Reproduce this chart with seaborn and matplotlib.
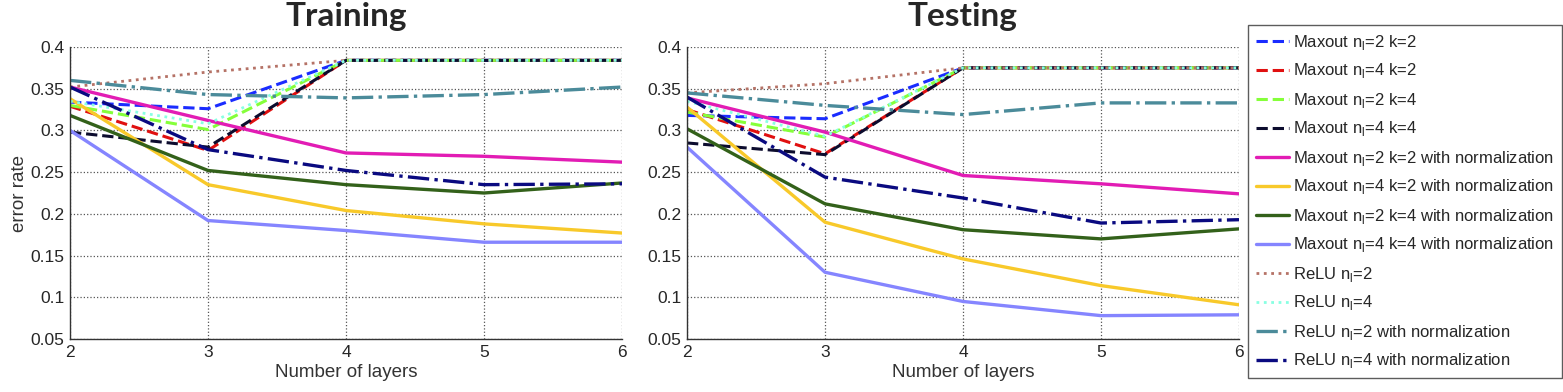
import seaborn as sns
import matplotlib.pyplot as plt

# Number of layers
layers = [2, 3, 4, 5, 6]

# Training error rate
train_mx_n2_k2 = [0.334, 0.326, 0.384, 0.384, 0.384]
train_mx_n4_k2 = [0.329, 0.276, 0.384, 0.384, 0.384]
train_mx_n2_k4 = [0.330, 0.301, 0.384, 0.384, 0.384]
train_mx_n4_k4 = [0.298, 0.280, 0.384, 0.384, 0.384]
train_mx_n2_k2_norm = [0.352, 0.312, 0.273, 0.269, 0.262]
train_mx_n4_k2_norm = [0.338, 0.235, 0.204, 0.188, 0.177]
train_mx_n2_k4_norm = [0.318, 0.252, 0.235, 0.225, 0.237]
train_mx_n4_k4_norm = [0.300, 0.192, 0.180, 0.166, 0.166]
train_relu_n2 = [0.352, 0.370, 0.384, 0.384, 0.384]
train_relu_n4 = [0.335, 0.308, 0.384, 0.384, 0.384]
train_relu_n2_norm = [0.360, 0.343, 0.339, 0.343, 0.352]
train_relu_n4_norm = [0.352, 0.277, 0.252, 0.235, 0.236]

# Testing error rate
test_mx_n2_k2 = [0.318, 0.314, 0.375, 0.375, 0.375]
test_mx_n4_k2 = [0.325, 0.272, 0.375, 0.375, 0.375]
test_mx_n2_k4 = [0.322, 0.292, 0.375, 0.375, 0.375]
test_mx_n4_k4 = [0.285, 0.271, 0.375, 0.375, 0.375]
test_mx_n2_k2_norm = [0.339, 0.298, 0.246, 0.236, 0.224]
test_mx_n4_k2_norm = [0.328, 0.190, 0.146, 0.114, 0.091]
test_mx_n2_k4_norm = [0.302, 0.212, 0.181, 0.170, 0.182]
test_mx_n4_k4_norm = [0.280, 0.130, 0.095, 0.078, 0.079]
test_relu_n2 = [0.345, 0.356, 0.375, 0.375, 0.375]
test_relu_n4 = [0.335, 0.293, 0.375, 0.375, 0.375]
test_relu_n2_norm = [0.345, 0.330, 0.319, 0.333, 0.333]
test_relu_n4_norm = [0.340, 0.244, 0.219, 0.189, 0.193]

nl = r"n$_{\mathregular{l}}$"
labels = [
    f"Maxout {nl}=2 k=2",
    f"Maxout {nl}=4 k=2",
    f"Maxout {nl}=2 k=4",
    f"Maxout {nl}=4 k=4",
    f"Maxout {nl}=2 k=2 with normalization",
    f"Maxout {nl}=4 k=2 with normalization",
    f"Maxout {nl}=2 k=4 with normalization",
    f"Maxout {nl}=4 k=4 with normalization",
    f"ReLU {nl}=2",
    f"ReLU {nl}=4",
    f"ReLU {nl}=2 with normalization",
    f"ReLU {nl}=4 with normalization",
]

train_series = [train_mx_n2_k2, train_mx_n4_k2, train_mx_n2_k4, train_mx_n4_k4,
                train_mx_n2_k2_norm, train_mx_n4_k2_norm, train_mx_n2_k4_norm, train_mx_n4_k4_norm,
                train_relu_n2, train_relu_n4, train_relu_n2_norm, train_relu_n4_norm]
test_series = [test_mx_n2_k2, test_mx_n4_k2, test_mx_n2_k4, test_mx_n4_k4,
               test_mx_n2_k2_norm, test_mx_n4_k2_norm, test_mx_n2_k4_norm, test_mx_n4_k4_norm,
               test_relu_n2, test_relu_n4, test_relu_n2_norm, test_relu_n4_norm]

# line styles (MATLAB-ish)
colors = ["#1a2cff", "#e01010", "#85ff3a", "#0c0c2e",
          "#e21cb4", "#f8c92a", "#33611a", "#8585ff",
          "#b57266", "#88ffe2", "#4b8b9a", "#0a0a80"]
styles = ["--", "--", "--", "--", "-", "-", "-", "-", ":", ":", "-.", "-."]
widths = [2.2, 2.2, 2.2, 2.2, 2.4, 2.4, 2.4, 2.4, 2.0, 2.0, 2.4, 2.4]

sns.set_style("white")
plt.rcParams["font.family"] = ["Liberation Sans", "DejaVu Sans"]
plt.rcParams["mathtext.fontset"] = "custom"
plt.rcParams["mathtext.rm"] = "Liberation Sans"

fig = plt.figure(figsize=(15.63, 3.92), dpi=100)
ax_train = fig.add_axes([70 / 1563, 53 / 392, 552 / 1563, 292 / 392])
ax_test = fig.add_axes([687 / 1563, 53 / 392, 552 / 1563, 292 / 392])

for ax, series, title in [(ax_train, train_series, "Training"), (ax_test, test_series, "Testing")]:
    for vals, lab, c, ls, lw in zip(series, labels, colors, styles, widths):
        sns.lineplot(x=layers, y=vals, color=c, linestyle=ls, linewidth=lw, label=lab, ax=ax, legend=False)
    ax.set_xlim(2, 6)
    ax.set_ylim(0.05, 0.4)
    ax.set_xticks(layers)
    ax.set_yticks([0.05, 0.1, 0.15, 0.2, 0.25, 0.3, 0.35, 0.4])
    ax.set_yticklabels(["0.05", "0.1", "0.15", "0.2", "0.25", "0.3", "0.35", "0.4"])
    ax.grid(True, linestyle=":", color="#555555", linewidth=0.9)
    ax.tick_params(direction="in", length=4, labelsize=12.5, pad=4, color="#333333")
    for side in ["top", "right"]:
        ax.spines[side].set_visible(False)
    for side in ["left", "bottom"]:
        ax.spines[side].set_color("#333333")
        ax.spines[side].set_linewidth(1.0)
    ax.set_xlabel("Number of layers", fontsize=13.5, color="#333333", labelpad=3)
    ax.set_title(title, fontsize=24, fontweight="bold", family=["Lato", "DejaVu Sans"], pad=15)

ax_train.set_ylabel("error rate", fontsize=13.5, color="#333333", labelpad=2)

handles, labs = ax_train.get_legend_handles_labels()
fig.legend(handles, labs, loc="upper left", bbox_to_anchor=(1248 / 1563, 1 - 25 / 392),
           fontsize=12, frameon=True, fancybox=False, edgecolor="#333333",
           handlelength=2.0, handletextpad=0.25, labelspacing=0.6, borderpad=0.45,
           borderaxespad=0)

fig.savefig("out.png", dpi=100)
